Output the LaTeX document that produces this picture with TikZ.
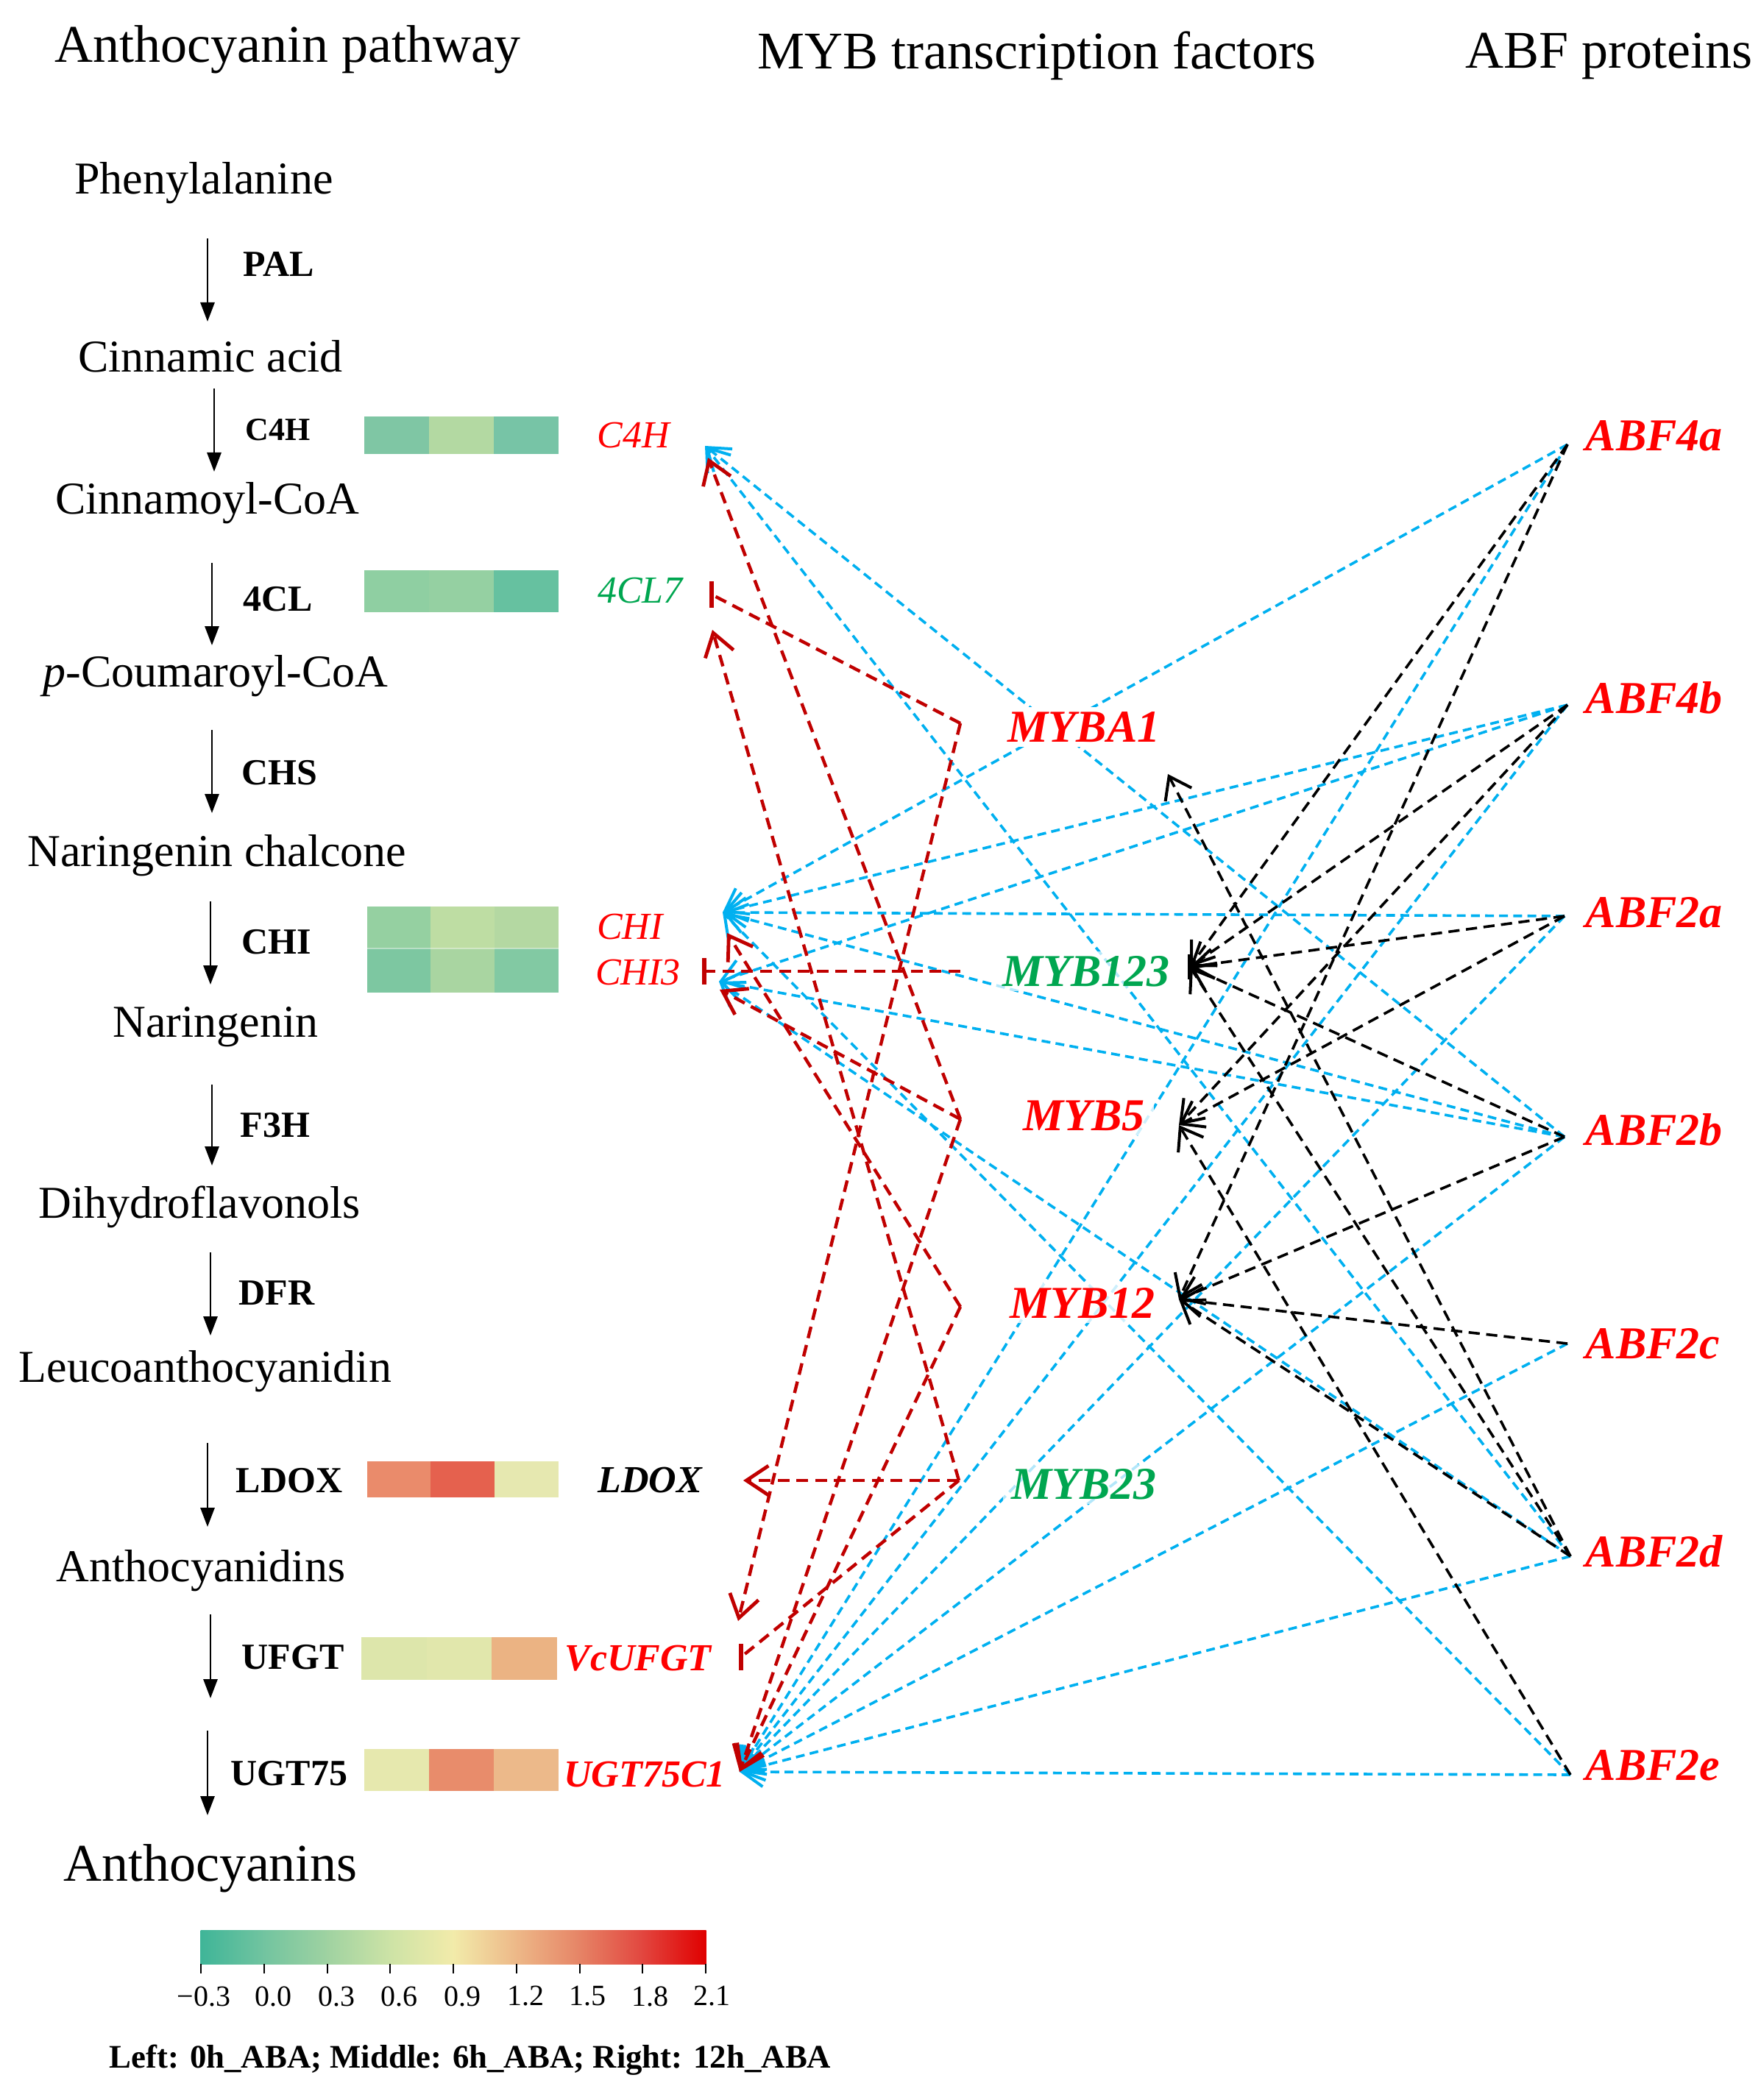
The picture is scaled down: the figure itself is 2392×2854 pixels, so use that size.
\documentclass[tikz,border=0pt]{standalone}
\usepackage{fontspec}
\setmainfont{Liberation Serif}
\usetikzlibrary{arrows.meta,calc}
\definecolor{abfblue}{RGB}{0,176,240}
\definecolor{lnred}{RGB}{192,0,0}
\definecolor{txtred}{RGB}{255,0,0}
\definecolor{txtgreen}{RGB}{0,166,80}
% heat map cells
\definecolor{hCa}{HTML}{7FC6A4}\definecolor{hCb}{HTML}{B3D9A2}\definecolor{hCc}{HTML}{77C4A6}
\definecolor{hLa}{HTML}{8FCFA2}\definecolor{hLb}{HTML}{95D0A2}\definecolor{hLc}{HTML}{66C1A0}
\definecolor{hIa}{HTML}{95D0A1}\definecolor{hIb}{HTML}{BEDDA3}\definecolor{hIc}{HTML}{B4D8A2}
\definecolor{hJa}{HTML}{7DC7A1}\definecolor{hJb}{HTML}{A9D5A1}\definecolor{hJc}{HTML}{82C9A3}
\definecolor{hDa}{HTML}{EA8B6B}\definecolor{hDb}{HTML}{E5614E}\definecolor{hDc}{HTML}{E6E8B0}
\definecolor{hUa}{HTML}{DDE6AB}\definecolor{hUb}{HTML}{E1E7AC}\definecolor{hUc}{HTML}{EBB383}
\definecolor{hGa}{HTML}{E6E8AE}\definecolor{hGb}{HTML}{E88C6B}\definecolor{hGc}{HTML}{ECB98A}
% colour bar
\definecolor{cb0}{HTML}{3FB598}\definecolor{cb1}{HTML}{72C4A0}\definecolor{cb2}{HTML}{9FD2A1}
\definecolor{cb3}{HTML}{CDE3A6}\definecolor{cb4}{HTML}{F2EBAA}\definecolor{cb5}{HTML}{EDB888}
\definecolor{cb6}{HTML}{E68466}\definecolor{cb7}{HTML}{E2463F}\definecolor{cb8}{HTML}{E00000}
\begin{document}
\begin{tikzpicture}[x=0.25pt,y=-0.25pt,
  ttl/.style={font=\fontsize{18}{21}\selectfont,inner sep=0pt},
  metab/.style={font=\fontsize{15.5}{18}\selectfont,inner sep=0pt},
  enz/.style={font=\bfseries\fontsize{12.5}{15}\selectfont,inner sep=0pt,anchor=west},
  gene/.style={font=\itshape\fontsize{13}{15}\selectfont,inner sep=0pt},
  geneb/.style={font=\bfseries\itshape\fontsize{13}{15}\selectfont,inner sep=0pt},
  myb/.style={font=\bfseries\itshape\fontsize{15.5}{18}\selectfont,fill=white,inner xsep=3pt,inner ysep=1.5pt},
  abf/.style={font=\bfseries\itshape\fontsize{15.5}{18}\selectfont,inner sep=0pt,anchor=west,text=txtred},
  parrow/.style={line width=0.6pt,-{Triangle[length=6.5pt,width=4.8pt]}},
  bl/.style={draw=abfblue,line width=0.9pt,dash pattern=on 3pt off 1.8pt,-{Straight Barb[length=7pt,width=10pt,line width=1pt]}},
  bk/.style={draw=black,line width=0.9pt,dash pattern=on 3.8pt off 2.2pt,-{Straight Barb[length=7pt,width=10pt,line width=1pt]}},
  rd/.style={draw=lnred,line width=1.1pt,dash pattern=on 4pt off 2.4pt,-{Straight Barb[length=7.5pt,width=10pt,line width=1.2pt]}},
  rdn/.style={draw=lnred,line width=1.1pt,dash pattern=on 4pt off 2.4pt},
  tbar/.style={draw=lnred,line width=1.4pt},
  ticklbl/.style={font=\fontsize{10}{12}\selectfont,inner sep=0pt},
]
\useasboundingbox (0,0) rectangle (2392,2854);

% ---------- titles
\node[ttl] (ttlA) at (391,67) {Anthocyanin pathway};
\node[ttl] (ttlM) at (1409,76) {MYB transcription factors};
\node[ttl] (ttlB) at (2186,76) {ABF proteins};

% ---------- metabolites
\node[metab] (phe) at (277,249) {Phenylalanine};
\node[metab] (cin) at (286,484) {Cinnamic acid};
\node[metab] (cco) at (282,684) {Cinnamoyl-CoA};
\node[metab] (pco) at (293,919) {\textit{p}-Coumaroyl-CoA};
\node[metab] (nch) at (295,1163) {Naringenin chalcone};
\node[metab] (nar) at (293,1396) {Naringenin};
\node[metab] (dhf) at (271,1640) {Dihydroflavonols};
\node[metab] (leu) at (279,1864) {Leucoanthocyanidin};
\node[metab] (acd) at (273,2135) {Anthocyanidins};
\node[ttl]   (acn) at (286,2539) {Anthocyanins};

% ---------- pathway arrows
\coordinate (p1s) at (282,324);  \coordinate (p1e) at (282,437);
\coordinate (p2s) at (291,528);  \coordinate (p2e) at (291,641);
\coordinate (p3s) at (288,765);  \coordinate (p3e) at (288,877);
\coordinate (p4s) at (288,992);  \coordinate (p4e) at (288,1105);
\coordinate (p5s) at (286,1225); \coordinate (p5e) at (286,1338);
\coordinate (p6s) at (288,1474); \coordinate (p6e) at (288,1584);
\coordinate (p7s) at (286,1702); \coordinate (p7e) at (286,1815);
\coordinate (p8s) at (282,1961); \coordinate (p8e) at (282,2075);
\coordinate (p9s) at (286,2194); \coordinate (p9e) at (286,2308);
\coordinate (p10s) at (282,2352); \coordinate (p10e) at (282,2467);
\foreach \k in {1,...,10} \draw[parrow] (p\k s) -- (p\k e);

% ---------- enzyme labels
\node[enz] (ePAL) at (330,359) {PAL};
\node[enz,font=\bfseries\fontsize{11}{13}\selectfont] (eC4H) at (333,584) {C4H};
\node[enz] (e4CL) at (330,814) {4CL};
\node[enz] (eCHS) at (328,1050) {CHS};
\node[enz] (eCHI) at (328,1280) {CHI};
\node[enz] (eF3H) at (326,1529) {F3H};
\node[enz] (eDFR) at (324,1757) {DFR};
\node[enz] (eLDOX) at (320,2012) {LDOX};
\node[enz] (eUFGT) at (328,2252) {UFGT};
\node[enz] (eUGT) at (313,2410) {UGT75};

% ---------- heat maps
\fill[hCa] (495,566) rectangle (583,617); \fill[hCb] (583,566) rectangle (671,617); \fill[hCc] (671,566) rectangle (759,617);
\fill[hLa] (495,775) rectangle (583,832); \fill[hLb] (583,775) rectangle (671,832); \fill[hLc] (671,775) rectangle (759,832);
\fill[hIa] (499,1232) rectangle (585,1289); \fill[hIb] (585,1232) rectangle (672,1289); \fill[hIc] (672,1232) rectangle (759,1289);
\fill[hJa] (499,1289) rectangle (585,1349); \fill[hJb] (585,1289) rectangle (672,1349); \fill[hJc] (672,1289) rectangle (759,1349);
\fill[hDa] (499,1986) rectangle (585,2035); \fill[hDb] (585,1986) rectangle (672,2035); \fill[hDc] (672,1986) rectangle (759,2035);
\fill[hUa] (491,2225) rectangle (580,2283); \fill[hUb] (580,2225) rectangle (668,2283); \fill[hUc] (668,2225) rectangle (757,2283);
\fill[hGa] (495,2377) rectangle (583,2434); \fill[hGb] (583,2377) rectangle (671,2434); \fill[hGc] (671,2377) rectangle (759,2434);
\draw[white,opacity=0.4,line width=0.5pt] (499,1289) -- (759,1289);

% ---------- gene labels
\node[gene,text=txtred]   (gC4H)  at (861,592)  {C4H};
\node[gene,text=txtgreen] (g4CL)  at (870,803)  {4CL7};
\node[gene,text=txtred]   (gCHI)  at (856,1260) {CHI};
\node[gene,text=txtred]   (gCHI3) at (867,1322) {CHI3};
\node[geneb,text=black]   (gLDOX) at (883,2012) {LDOX};
\node[geneb,text=txtred]  (gUFGT) at (867,2254) {VcUFGT};
\node[geneb,text=txtred]  (gUGT)  at (876,2412) {UGT75C1};

% ---------- ABF labels
\node[abf] (ABF4a) at (2154,592)  {ABF4a};
\node[abf] (ABF4b) at (2154,948)  {ABF4b};
\node[abf] (ABF2a) at (2154,1240) {ABF2a};
\node[abf] (ABF2b) at (2154,1535) {ABF2b};
\node[abf] (ABF2c) at (2154,1826) {ABF2c};
\node[abf] (ABF2d) at (2154,2108) {ABF2d};
\node[abf] (ABF2e) at (2154,2399) {ABF2e};

% ---------- connector end points
\coordinate (tC4Hb) at (958,606);
\coordinate (tC4Hr) at (962,622);
\coordinate (t4CLbar) at (967,808);
\coordinate (t4CLr) at (968,856);
\coordinate (tCHIb) at (982,1240);
\coordinate (tCHIr) at (988,1268);
\coordinate (tCHI3bar) at (957,1320);
\coordinate (tCHI3b) at (977,1334);
\coordinate (tCHI3r) at (978,1345);
\coordinate (tLDOX) at (1010,2012);
\coordinate (tUFGTr) at (1003,2203);
\coordinate (tUFGTbar) at (1007,2252);
\coordinate (tUGT) at (1005,2408);

\coordinate (r1) at (1305,983);
\coordinate (r2) at (1305,1320);
\coordinate (r3) at (1305,1521);
\coordinate (r4) at (1305,1776);
\coordinate (r5) at (1303,2012);

\coordinate (k1) at (1587,1052);
\coordinate (k2) at (1617,1314);
\coordinate (k3) at (1602,1529);
\coordinate (k4) at (1602,1766);

\coordinate (a1) at (2130,604);
\coordinate (a2) at (2130,958);
\coordinate (a3) at (2126,1245);
\coordinate (a4) at (2126,1545);
\coordinate (a5) at (2130,1826);
\coordinate (a6) at (2134,2115);
\coordinate (a7) at (2134,2412);

% ---------- blue: ABF -> structural genes
\draw[bl] (a1) -- (tCHIb);
\draw[bl] (a1) -- (tUGT);
\draw[bl] (a2) -- (tCHIb);
\draw[bl] (a2) -- (tCHI3b);
\draw[bl] (a2) -- (tUGT);
\draw[bl] (a3) -- (tCHIb);
\draw[bl] (a3) -- (tUGT);
\draw[bl] (a4) -- (tC4Hb);
\draw[bl] (a4) -- (tCHIb);
\draw[bl] (a4) -- (tCHI3b);
\draw[bl] (a4) -- (tUGT);
\draw[bl] (a5) -- (tUGT);
\draw[bl] (a6) -- (tC4Hb);
\draw[bl] (a6) -- (tCHI3b);
\draw[bl] (a6) -- (tUGT);
\draw[bl] (a7) -- (tCHIb);
\draw[bl] (a7) -- (tUGT);

% ---------- MYB labels (over the blue lines)
\node[myb,text=txtred] (MYBA1) at (1473,988) {MYBA1};
\node[myb,text=txtgreen,fill opacity=0.7,text opacity=1] (MYB123) at (1476,1320) {MYB123};
\node[myb,text=txtred,fill opacity=0.8,text opacity=1] (MYB5) at (1473,1516) {MYB5};
\node[myb,text=txtred,fill opacity=0.8,text opacity=1] (MYB12) at (1471,1771) {MYB12};
\node[myb,text=txtgreen,fill opacity=0.7,text opacity=1] (MYB23) at (1473,2017) {MYB23};

% ---------- black: ABF -> MYB
\draw[bk] (a1) -- (k2);
\draw[bk] (a1) -- (k4);
\draw[bk] (a2) -- (k2);
\draw[bk] (a2) -- (k3);
\draw[bk] (a3) -- (k2);
\draw[bk] (a3) -- (k3);
\draw[bk] (a4) -- (k2);
\draw[bk] (a4) -- (k4);
\draw[bk] (a5) -- (k4);
\draw[bk] (a6) -- (k1);
\draw[bk] (a6) -- (k2);
\draw[bk] (a6) -- (k4);
\draw[bk] (a7) -- (k3);
\draw[line width=1.3pt] ($(k2)+(0,-17)$) -- ($(k2)+(0,17)$);

% ---------- red: MYB -> structural genes
\draw[rdn] (r1) -- (t4CLbar);
\draw[tbar] ($(t4CLbar)+(0,-18)$) -- ($(t4CLbar)+(0,18)$);
\draw[rd] (r1) -- (tUFGTr);
\draw[rdn] (r2) -- (tCHI3bar);
\draw[tbar] ($(tCHI3bar)+(0,-18)$) -- ($(tCHI3bar)+(0,18)$);
\draw[rd] (r3) -- (tC4Hr);
\draw[rd] (r3) -- (tCHI3r);
\draw[rd] (r3) -- (tUGT);
\draw[rd] (r4) -- (tCHIr);
\draw[rd] (r4) -- (tUGT);
\draw[rd] (r5) -- (t4CLr);
\draw[rd] (r5) -- (tLDOX);
\draw[rdn] (r5) -- (tUFGTbar);
\draw[tbar] ($(tUFGTbar)+(0,-18)$) -- ($(tUFGTbar)+(0,18)$);

% ---------- colour bar
\foreach \i/\ca/\cb in {0/cb0/cb1,1/cb1/cb2,2/cb2/cb3,3/cb3/cb4,4/cb4/cb5,5/cb5/cb6,6/cb6/cb7,7/cb7/cb8}
  \shade[left color=\ca,right color=\cb] ({273+85.75*\i-0.5},2623) rectangle ({273+85.75*(\i+1)+0.5},2669);
\foreach \i in {0,...,8}
  \draw[line width=0.5pt] ({273+85.75*\i},2669) -- ++(0,13);
\node[ticklbl] (cbl0) at (277,2713) {−0.3};
\node[ticklbl] (cbl1) at (371,2713) {0.0};
\node[ticklbl] (cbl2) at (457,2713) {0.3};
\node[ticklbl] (cbl3) at (542,2713) {0.6};
\node[ticklbl] (cbl4) at (628,2713) {0.9};
\node[ticklbl] (cbl5) at (714,2713) {1.2};
\node[ticklbl] (cbl6) at (798,2713) {1.5};
\node[ticklbl] (cbl7) at (883,2713) {1.8};
\node[ticklbl] (cbl8) at (967,2713) {2.1};
\node[font=\bfseries\fontsize{11.2}{13}\selectfont,inner sep=0pt] (cap) at (639,2800) {Left: 0h\_ABA; Middle: 6h\_ABA; Right: 12h\_ABA};
\end{tikzpicture}
\end{document}
